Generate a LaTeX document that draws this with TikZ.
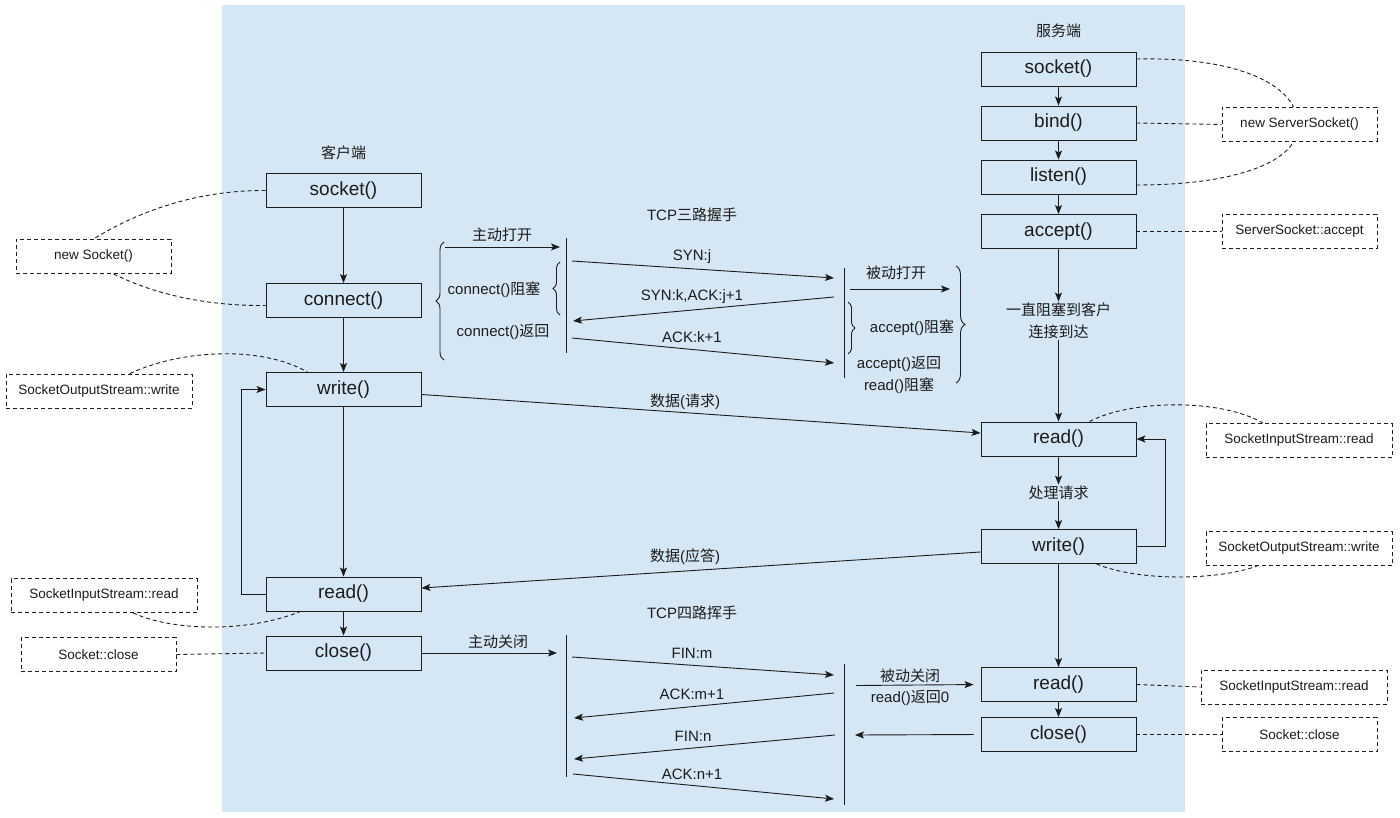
\documentclass[tikz,border=0pt]{standalone}
\usepackage{fontspec}
\setmainfont{Liberation Sans}
\newfontfamily\cjk{Noto Sans CJK SC}
\usetikzlibrary{arrows.meta,decorations.pathreplacing,calc}
\definecolor{bgblue}{RGB}{213,230,244}
\definecolor{ink}{RGB}{28,28,28}
\begin{document}
\begin{tikzpicture}[x=1pt,y=-1pt,line width=0.9pt,color=ink,
  box/.style={draw=ink,minimum width=155pt,minimum height=34pt,inner sep=0pt,font=\fontsize{19}{22}\selectfont},
  note/.style={draw=ink,dash pattern=on 4pt off 3pt,fill=white,minimum height=34pt,inner sep=0pt,font=\fontsize{13.5}{16}\selectfont},
  lbl/.style={inner sep=1pt,font=\fontsize{15}{18}\selectfont},
  clbl/.style={inner sep=1pt,font=\fontsize{15}{22}\selectfont\cjk,align=center},
  arr/.style={-{Stealth[length=9pt,width=7pt,inset=2pt]}},
  dsh/.style={dash pattern=on 4pt off 3pt},
  brc/.style={decorate,decoration={brace,amplitude=#1}}]
\useasboundingbox (0,0) rectangle (1400,818);
\fill[bgblue] (222,5) rectangle (1185,812);

% client
\node[clbl] (clab) at (343.5,153) {客户端};
\node[box] (cs) at (343.5,190.5) {socket()};
\node[box] (cc) at (343.5,300.5) {connect()};
\node[box] (cw) at (343.5,389.5) {write()};
\node[box] (cr) at (343.5,594) {read()};
\node[box] (cx) at (343.5,653) {close()};

% server
\node[clbl] (slab) at (1058.5,31) {服务端};
\node[box] (ss) at (1058.5,69) {socket()};
\node[box] (sb) at (1058.5,123) {bind()};
\node[box] (sl) at (1058.5,177) {listen()};
\node[box] (sa) at (1058.5,231.5) {accept()};
\node[clbl] (wait) at (1058.5,321) {一直阻塞到客户\\连接到达};
\node[box] (sr) at (1058.5,439) {read()};
\node[clbl] (proc) at (1058.5,493) {处理请求};
\node[box] (sw) at (1058.5,546.5) {write()};
\node[box] (sr2) at (1058.5,684.5) {read()};
\node[box] (sx) at (1058.5,734.5) {close()};

% notes left
\node[note,minimum width=155pt] (nS) at (93.5,256.5) {new Socket()};
\node[note,minimum width=186pt] (nOW) at (99,391) {SocketOutputStream::write};
\node[note,minimum width=186pt] (nIR) at (104,595.5) {SocketInputStream::read};
\node[note,minimum width=155pt] (nC) at (98.5,654.5) {Socket::close};
% notes right
\node[note,minimum width=155pt] (nSS) at (1299.5,124.5) {new ServerSocket()};
\node[note,minimum width=155pt] (nSA) at (1299.5,231.5) {ServerSocket::accept};
\node[note,minimum width=186pt] (nSIR) at (1299,440.5) {SocketInputStream::read};
\node[note,minimum width=186pt] (nSOW) at (1299,548.5) {SocketOutputStream::write};
\node[note,minimum width=186pt] (nSIR2) at (1294,687) {SocketInputStream::read};
\node[note,minimum width=155pt] (nSC) at (1299.5,734.5) {Socket::close};

% client flow
\draw[arr] (cs) -- (cc);
\draw[arr] (cc) -- (cw);
\draw[arr] (cw) -- (cr);
\draw[arr] (cr) -- (cx);
\draw[arr] (cr.west) -- ++(-24,0) |- (cw.west);

% server flow
\draw[arr] (ss) -- (sb);
\draw[arr] (sb) -- (sl);
\draw[arr] (sl) -- (sa);
\draw[arr] (sa) -- (wait);
\draw[arr] (wait) -- (sr);
\draw[arr] (sr) -- (proc);
\draw[arr] (proc) -- (sw);
\draw[arr] (sw) -- (sr2);
\draw[arr] (sr2) -- (sx);
\draw[arr] (sw.east) -- ++(29,0) |- (sr.east);

% data
\draw[arr] ($(cw.east)+(0,5)$) -- ($(sr.west)+(0,-6)$);
\node[lbl] (dreq) at (685,402) {{\cjk 数据}({\cjk 请求})};
\draw[arr] ($(sw.west)+(0,5.5)$) -- ($(cr.east)+(0,-6)$);
\node[lbl] (dres) at (685,557) {{\cjk 数据}({\cjk 应答})};

% dashed note links
\draw[dsh] (cs.west) .. controls (200,190) and (140,210) .. (nS.north);
\draw[dsh] ($(nS.south)+(20,0)$) .. controls (150,292) and (200,306) .. ($(cc.west)+(0,5)$);
\draw[dsh] ($(nOW.north)+(31,0)$) .. controls (180,350) and (260,345) .. ($(cw.north)+(-36,0)$);
\draw[dsh] ($(nIR.south)+(29,0)$) .. controls (175,632) and (250,632) .. ($(cr.south)+(-43,0)$);
\draw[dsh] (nC.east) -- (cx.west);
\draw[dsh] ($(ss.east)+(0,-10)$) .. controls (1230,57) and (1280,80) .. ($(nSS.north)+(-6,0)$);
\draw[dsh] (sb.east) -- (nSS.west);
\draw[dsh] ($(sl.east)+(0,8)$) .. controls (1230,185) and (1280,165) .. ($(nSS.south)+(-6,0)$);
\draw[dsh] (sa.east) -- (nSA.west);
\draw[dsh] ($(sr.north)+(31,0)$) .. controls (1130,400) and (1220,398) .. ($(nSIR.north)+(-36,0)$);
\draw[dsh] ($(sw.south)+(38,0)$) .. controls (1140,582) and (1220,580) .. ($(nSOW.south)+(-42,0)$);
\draw[dsh] (sr2.east) -- (nSIR2.west);
\draw[dsh] (sx.east) -- (nSC.west);

% three-way handshake
\node[lbl] (hs) at (692,215) {TCP{\cjk 三路握手}};
\coordinate (hL1) at (566,238); \coordinate (hL2) at (566,353);
\coordinate (hR1) at (844,268); \coordinate (hR2) at (844,378);
\draw (hL1) -- (hL2);
\draw (hR1) -- (hR2);
\coordinate (o1) at (445,247); \coordinate (o2) at (560,247);
\draw[arr] (o1) -- (o2);
\node[clbl] (zd) at (502,235) {主动打开};
\coordinate (m1a) at (572,261); \coordinate (m1b) at (834,278);
\draw[arr] (m1a) -- (m1b);
\node[lbl] (syn) at (692,257) {SYN:j};
\coordinate (m2a) at (834,297); \coordinate (m2b) at (573,321);
\draw[arr] (m2a) -- (m2b);
\node[lbl] (synack) at (692,297) {SYN:k,ACK:j+1};
\coordinate (m3a) at (572,338); \coordinate (m3b) at (834,363);
\draw[arr] (m3a) -- (m3b);
\node[lbl] (ack) at (692,337) {ACK:k+1};
\coordinate (p1) at (850,289); \coordinate (p2) at (950,289);
\draw[arr] (p1) -- (p2);
\node[clbl] (bd) at (896,273) {被动打开};
\draw[brc=8pt] (444,360) -- (444,242);
\draw[brc=7pt] (560,315) -- (560,262);
\node[lbl] (cblk) at (494,290) {connect(){\cjk 阻塞}};
\node[lbl] (cret) at (503,332) {connect(){\cjk 返回}};
\draw[brc=7pt] (848,302) -- (848,354);
\node[lbl] (ablk) at (912,328) {accept(){\cjk 阻塞}};
\node[lbl] (aret) at (899,364) {accept(){\cjk 返回}};
\node[lbl] (rblk) at (899,386) {read(){\cjk 阻塞}};
\draw[brc=9pt] (956,266) -- (956,383);

% four-way close
\node[lbl] (fw) at (692,613) {TCP{\cjk 四路挥手}};
\coordinate (fL1) at (566,635); \coordinate (fL2) at (566,777);
\coordinate (fR1) at (844,664); \coordinate (fR2) at (844,805);
\draw (fL1) -- (fL2);
\draw (fR1) -- (fR2);
\coordinate (ac) at (557,653);
\draw[arr] (cx.east) -- (ac);
\node[clbl] (zg) at (498,642) {主动关闭};
\coordinate (f1a) at (572,657); \coordinate (f1b) at (834,675);
\draw[arr] (f1a) -- (f1b);
\node[lbl] (finm) at (692,653) {FIN:m};
\coordinate (f2a) at (834,693); \coordinate (f2b) at (574,718);
\draw[arr] (f2a) -- (f2b);
\node[lbl] (ackm) at (692,694) {ACK:m+1};
\coordinate (f3a) at (835,735); \coordinate (f3b) at (574,759);
\draw[arr] (f3a) -- (f3b);
\node[lbl] (finn) at (693,736) {FIN:n};
\coordinate (f4a) at (573,774); \coordinate (f4b) at (834,799);
\draw[arr] (f4a) -- (f4b);
\node[lbl] (ackn) at (692,774) {ACK:n+1};
\coordinate (pc1) at (856,685.5);
\draw[arr,shorten >=7pt] (pc1) -- (sr2.west);
\node[clbl] (bg) at (910,676) {被动关闭};
\node[lbl] (r0) at (910,698) {read(){\cjk 返回}0};
\coordinate (pc2) at (855,735);
\draw[arr,shorten <=7pt] (sx.west) -- (pc2);
\end{tikzpicture}
\end{document}
